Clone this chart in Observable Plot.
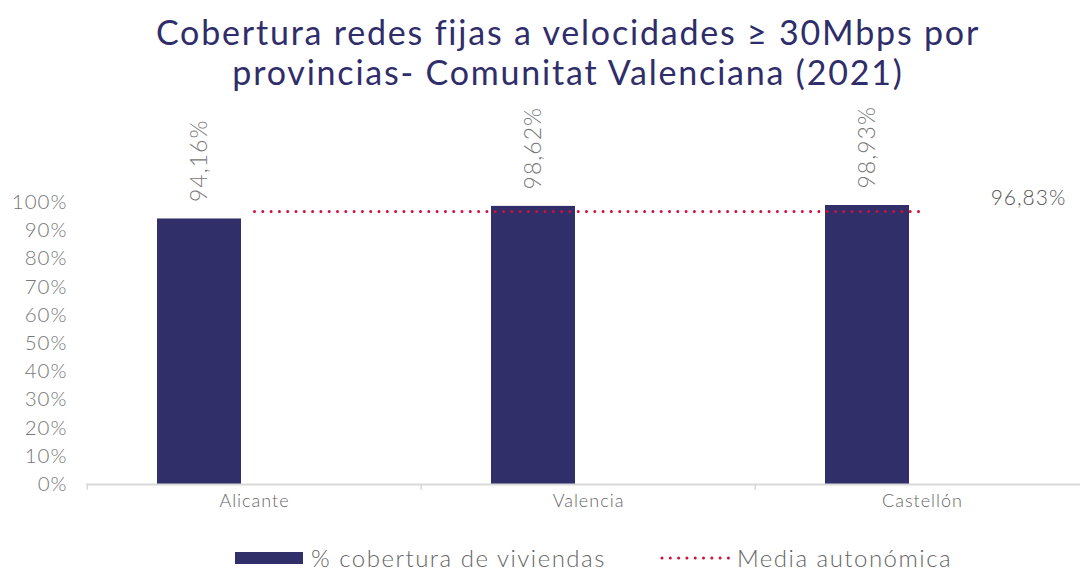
<!DOCTYPE html>
<html>
<head>
<meta charset="utf-8">
<script src="https://cdn.jsdelivr.net/npm/d3@7"></script>
<script src="https://cdn.jsdelivr.net/npm/@observablehq/plot@0.6"></script>
<style>
  body { margin: 0; background: #fff; width: 1080px; overflow: hidden; font-family: Lato, "Open Sans", sans-serif; }
  #title { box-sizing: border-box; height: 96px; padding-top: 12px; padding-left: 56px; text-align: center; color: #2f2d6a; font-size: 34px; line-height: 40px; font-weight: 400; letter-spacing: 1.8px; }
  #legend { box-sizing: border-box; height: 44px; padding-top: 19px; display: flex; align-items: center; padding-left: 235px; font-size: 24px; line-height: 20px; color: #666; font-weight: 300; letter-spacing: 1.5px; }
  .sw { display: inline-block; }
  #chart svg text { letter-spacing: 1px; }
</style>
</head>
<body>
<div id="title">Cobertura redes fijas a velocidades ≥ 30Mbps por<br>provincias- Comunitat Valenciana (2021)</div>
<div id="chart"></div>
<div id="legend"></div>
<script>
const categories = ["Alicante", "Valencia", "Castellón"];
const coverage = [94.16, 98.62, 98.93];
const average = 96.83;
const yTicks = [0, 10, 20, 30, 40, 50, 60, 70, 80, 90, 100];
const seriesNames = ["% cobertura de viviendas", "Media autonómica"];

const barColor = "#312f6a";
const avgColor = "#d0103a";
const fmt = v => v.toFixed(2).replace(".", ",") + "%";

const bars = categories.map((c, i) => ({c, v: coverage[i]}));
const avgLine = categories.map(c => ({c, v: average}));
const avgLabel = [{c: categories[categories.length - 1], v: average}];

const chart = Plot.plot({
  width: 1080,
  height: 430,
  marginLeft: 86,
  marginRight: 0,
  marginTop: 106,
  marginBottom: 42,
  style: {fontFamily: "Lato, 'Open Sans', sans-serif", fontWeight: 300, background: "#fff"},
  x: {domain: categories, range: [86, 1090], padding: 0},
  y: {domain: [0, 100]},
  marks: [
    Plot.axisY({ticks: yTicks, tickSize: 0, tickPadding: 19, tickFormat: d => d + "%", fontSize: 20.5, fill: "#777", label: null}),
    Plot.axisX({tickSize: 0, tickPadding: 10, fontSize: 18, fill: "#666", label: null}),
    Plot.barY(bars, {x: "c", y: "v", fill: barColor, insetLeft: 125, insetRight: 125, dx: -55}),
    Plot.ruleY([0], {stroke: "#d9d9d9", strokeWidth: 2}),
    Plot.ruleX(categories, {x: d => d, y1: 0, y2: -2, stroke: "#d9d9d9", strokeWidth: 1.5, dx: -167.3}),
    Plot.lineY(avgLine, {x: "c", y: "v", stroke: avgColor, strokeWidth: 3, strokeDasharray: "0 8.3", strokeLinecap: "round"}),
    Plot.text(bars, {x: "c", y: "v", text: d => fmt(d.v), rotate: -90, textAnchor: "start", dx: -55, dy: -17, fontSize: 23, fill: "#777"}),
    Plot.text(avgLabel, {x: "c", y: "v", text: d => fmt(d.v), dx: 106, dy: -13, fontSize: 21, fill: "#555"})
  ]
});
document.getElementById("chart").appendChild(chart);

const legend = document.getElementById("legend");
legend.innerHTML =
  `<span class="sw" style="width:68px;height:12px;background:${barColor};margin-right:8px"></span>` +
  `<span>${seriesNames[0]}</span>` +
  `<svg class="sw" width="70" height="12" style="margin-left:54px;margin-right:7px"><line x1="2" x2="70" y1="6" y2="6" stroke="${avgColor}" stroke-width="3" stroke-dasharray="0 8.3" stroke-linecap="round"/></svg>` +
  `<span>${seriesNames[1]}</span>`;
</script>
</body>
</html>
